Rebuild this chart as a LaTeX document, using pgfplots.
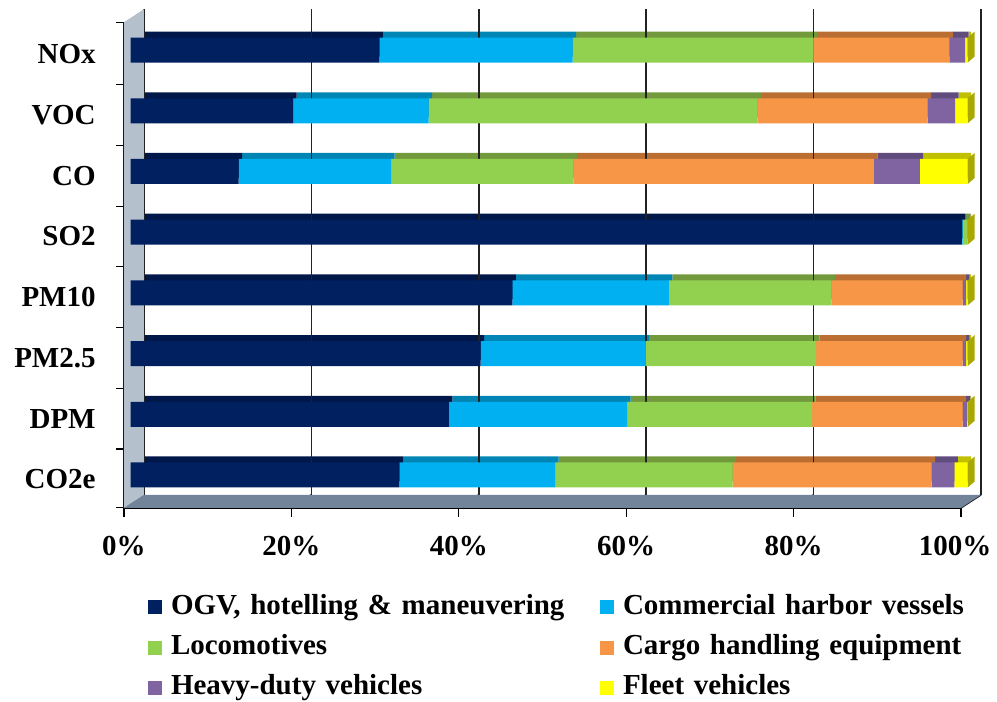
\documentclass[border=0pt]{standalone}
\usepackage{pgfplots}
\pgfplotsset{compat=1.18}
\usepackage{pgfplotstable}
\usepackage{fontspec}
\setmainfont{Liberation Serif}

\definecolor{cOGV}{HTML}{002060}
\definecolor{cCHV}{HTML}{00B0F0}
\definecolor{cLoco}{HTML}{92D050}
\definecolor{cCargo}{HTML}{F79646}
\definecolor{cHDV}{HTML}{8064A2}
\definecolor{cFleet}{HTML}{FFFF00}
\definecolor{tOGV}{HTML}{00174A}
\definecolor{tCHV}{HTML}{0085B5}
\definecolor{tLoco}{HTML}{73993D}
\definecolor{tCargo}{HTML}{BA6E32}
\definecolor{tHDV}{HTML}{604C7D}
\definecolor{tFleet}{HTML}{C0C000}
\definecolor{sFleet}{HTML}{A8A800}
\definecolor{wallc}{HTML}{B5C0CD}
\definecolor{floorc}{HTML}{72849A}
\definecolor{gridc}{HTML}{222222}

\pgfplotstableread{
cat ogv chv loco cargo hdv fleet
0 32.1 18.6 21.2 23.8 2.7 1.6
1 38.0 21.3 22.1 18.0 0.5 0.1
2 41.8 19.7 20.4 17.5 0.4 0.2
3 45.6 18.7 19.4 15.7 0.4 0.2
4 99.3 0.1 0.5 0.1 0.0 0.0
5 12.9 18.2 21.8 35.9 5.5 5.7
6 19.4 16.2 39.3 20.3 3.3 1.5
7 29.7 23.1 28.8 16.2 1.9 0.3
}\data

\pgfdeclareplotmark{sideface}{%
  \pgfpathmoveto{\pgfpoint{0pt}{-6.25pt}}%
  \pgfpathlineto{\pgfpoint{3.5pt}{-3.25pt}}%
  \pgfpathlineto{\pgfpoint{3.5pt}{9.25pt}}%
  \pgfpathlineto{\pgfpoint{0pt}{6.25pt}}%
  \pgfpathclose\pgfusepathqfill}

\newcommand\lblfont{\bfseries\fontsize{14.5}{17}\selectfont}
\def\bx{6.65pt}\def\by{4.35pt}
\def\fx{-3.35pt}\def\fy{-2.15pt}

\pgfplotsset{base/.style={scale only axis, width=418.5pt, height=242.8pt,
  xmin=0, xmax=100, ymin=-0.47, ymax=7.53, clip=false,
  axis line style={draw=none}, major tick length=0pt}}

\begin{document}
\begin{tikzpicture}
% ---- back: walls, floor, grid, shadows (top faces)
\begin{axis}[base, xbar stacked, bar width=12.5pt, xtick=\empty, ytick=\empty]
\fill[wallc] ([shift={(\fx,\fy)}]axis cs:0,-0.47) -- ([shift={(\fx,\fy)}]axis cs:0,7.53)
  -- ([shift={(\bx,\by)}]axis cs:0,7.53) -- ([shift={(\bx,\by)}]axis cs:0,-0.47) -- cycle;
\fill[floorc] ([shift={(\fx,\fy)}]axis cs:0,-0.47) -- ([shift={(\fx,\fy)}]axis cs:100,-0.47)
  -- ([shift={(\bx,\by)}]axis cs:100,-0.47) -- ([shift={(\bx,\by)}]axis cs:0,-0.47) -- cycle;
\pgfplotsinvokeforeach{0,20,40,60,80,100}{
  \draw[gridc, line width=0.85pt] ([shift={(\bx,\by)}]axis cs:#1,-0.47) -- ([shift={(\bx,\by)}]axis cs:#1,7.53);
  \draw[gridc, line width=0.85pt] ([shift={(\bx,\by)}]axis cs:#1,-0.47) -- ([shift={(\fx,\fy)}]axis cs:#1,-0.47);
  \draw[black, line width=0.6pt] ([shift={(\fx,\fy)}]axis cs:#1,-0.47) -- ([shift={(\fx,\fy-4.5pt)}]axis cs:#1,-0.47);
}
\draw[black, line width=0.8pt] ([shift={(\fx,\fy)}]axis cs:0,7.53) -- ([shift={(\fx,\fy)}]axis cs:0,-0.47)
  -- ([shift={(\fx,\fy)}]axis cs:100,-0.47);
\pgfplotsinvokeforeach{-0.47,0.5,1.5,2.5,3.5,4.5,5.5,6.5,7.53}{
  \draw[black, line width=0.6pt] ([shift={(\fx,\fy)}]axis cs:0,#1) -- ([shift={(\fx-4pt,\fy)}]axis cs:0,#1);
}
\addplot[fill=tOGV, draw=none, xshift=1.75pt, yshift=3pt] table[x=ogv,y=cat]{\data};
\addplot[fill=tCHV, draw=none, xshift=1.75pt, yshift=3pt] table[x=chv,y=cat]{\data};
\addplot[fill=tLoco, draw=none, xshift=1.75pt, yshift=3pt] table[x=loco,y=cat]{\data};
\addplot[fill=tCargo, draw=none, xshift=1.75pt, yshift=3pt] table[x=cargo,y=cat]{\data};
\addplot[fill=tHDV, draw=none, xshift=1.75pt, yshift=3pt] table[x=hdv,y=cat]{\data};
\addplot[fill=tFleet, draw=none, xshift=1.75pt, yshift=3pt] table[x=fleet,y=cat]{\data};
\end{axis}
% ---- side faces
\begin{axis}[base, xtick=\empty, ytick=\empty]
\addplot[only marks, mark=sideface, color=sFleet] coordinates {(100,0) (100,1) (100,2) (100,3) (100,4) (100,5) (100,6) (100,7)};
\end{axis}
% ---- front faces, labels, legend
\begin{axis}[base, xbar stacked, bar width=12.5pt,
  ytick={0,1,2,3,4,5,6,7},
  yticklabels={CO2e,DPM,PM2.5,PM10,SO2,CO,VOC,NOx},
  xtick={0,20,40,60,80,100},
  xticklabels={0\%,20\%,40\%,60\%,80\%,100\%\hspace*{6pt}},
  xtick pos=bottom, ytick pos=left,
  xticklabel style={font=\lblfont, anchor=north, inner sep=0pt, xshift=-3.35pt, yshift=-16.25pt},
  yticklabel style={font=\lblfont, anchor=east, inner sep=0pt, xshift=-17.35pt, yshift=-2.15pt},
  legend columns=2, legend cell align=left,
  legend image code/.code={\fill[#1, draw=none] (0pt,-3.5pt) rectangle (7pt,3.5pt);},
  legend style={at={(rel axis cs:0.0207,-0.187)}, anchor=north west, draw=none, fill=none,
    inner sep=0pt, outer sep=0pt, font=\lblfont, row sep=7.1pt,
    nodes={inner sep=0pt, text height=10pt, text depth=3pt, text width=214.5pt, align=left},
    /tikz/every odd column/.style={column sep=4.5pt},
    /tikz/every even column/.style={column sep=0pt}},
]
\addplot[fill=cOGV, draw=none] table[x=ogv,y=cat]{\data};
\addlegendentry{OGV, hotelling \& maneuvering}
\addplot[fill=cCHV, draw=none] table[x=chv,y=cat]{\data};
\addlegendentry{Commercial harbor vessels}
\addplot[fill=cLoco, draw=none] table[x=loco,y=cat]{\data};
\addlegendentry{Locomotives}
\addplot[fill=cCargo, draw=none] table[x=cargo,y=cat]{\data};
\addlegendentry{Cargo handling equipment}
\addplot[fill=cHDV, draw=none] table[x=hdv,y=cat]{\data};
\addlegendentry{Heavy-duty vehicles}
\addplot[fill=cFleet, draw=none] table[x=fleet,y=cat]{\data};
\addlegendentry{Fleet vehicles}
\coordinate (BL) at ([shift={(-65.35pt,-99.25pt)}]rel axis cs:0,0);
\coordinate (TR) at ([shift={(433.15pt,251.75pt)}]rel axis cs:0,0);
\end{axis}
\pgfresetboundingbox
\path[use as bounding box] (BL) rectangle (TR);
\end{tikzpicture}
\end{document}
